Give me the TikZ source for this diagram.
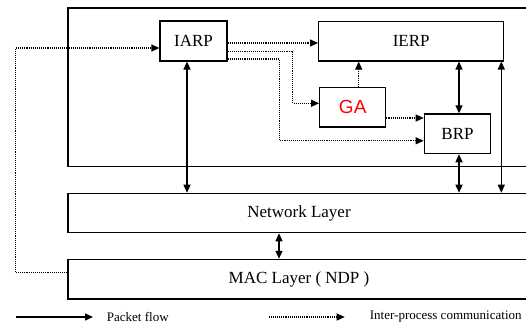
\documentclass[tikz,border=0pt]{standalone}
\usepackage{fontspec}
\setmainfont{Liberation Serif}
\newfontfamily\gafont{Liberation Sans}
\usetikzlibrary{arrows.meta}
\tikzset{
	box/.style = {draw, line width = 1.2pt, inner sep = 0pt, font = \fontsize{17}{20}\selectfont},
	pkt/.style = {line width = 1.2pt, <->},
	ipc/.style = {densely dotted, line width = 1.1pt, ->},
	legend/.style = {inner sep = 0pt, anchor = west, font = \fontsize{13}{15}\selectfont}
}
\begin{document}
\begin{tikzpicture}[x = 1pt, y = -1pt, >={Triangle[length=8pt, width=7pt]}]
		\useasboundingbox (0, 0) rectangle (526, 329);
		% node box
		\draw[line width = 1.2pt] (68, 8) rectangle (530, 166.7);
		\node[box, minimum width = 67, minimum height = 40] (iarp) at (193.5, 41) {IARP};
		\node[box, minimum width = 185, minimum height = 39.3] (ierp) at (411.2, 41.3) {IERP};
		\node[box, minimum width = 66, minimum height = 39.3, text = red, font = \gafont\fontsize{19}{20}\selectfont] (ga) at (352.7, 107.3) {GA};
		\node[box, minimum width = 66.4, minimum height = 39.7] (brp) at (457.5, 133.8) {BRP};
		% layers
		\node[box, minimum width = 462, minimum height = 39.4] (net) at (299, 213) {Network Layer};
		\node[box, minimum width = 462, minimum height = 39.7] (mac) at (299, 279.2) {MAC Layer ( NDP )};
		% packet flow
		\draw[pkt] ([xshift = -6.5pt]iarp.south) -- ([xshift = -6.5pt]iarp.south |- net.north);
		\draw[pkt] ([xshift = 1.5pt]brp.north) -- ([xshift = 1.5pt]brp.north |- ierp.south);
		\draw[pkt] ([xshift = 1.5pt]brp.south) -- ([xshift = 1.5pt]brp.south |- net.north);
		\draw[pkt] ([xshift = -3pt]ierp.south east) -- ([xshift = -3pt]ierp.south east |- net.north);
		\draw[pkt] ([xshift = -20pt]net.south) -- ([xshift = -20pt]net.south |- mac.north);
		% inter-process communication
		\draw[ipc] ([yshift = 6.5pt]mac.west) -- ++(-52, 0) |- ([yshift = -7pt]iarp.west);
		\draw[ipc] ([yshift = -2pt]iarp.east) -- ([yshift = -2pt]iarp.east -| ierp.west);
		\draw[ipc] ([yshift = -10.7pt]iarp.east) -- ++(65.3, 0) |- ([yshift = 4pt]ga.west);
		\draw[ipc] ([yshift = -18pt]iarp.east) -- ++(52, 0) |- ([yshift = -7pt]brp.west);
		\draw[ipc] ([yshift = -10.7pt]ga.east) -- ([yshift = -10.7pt]ga.east -| brp.west);
		\draw[ipc] ([xshift = 6pt]ga.north) -- ([xshift = 6pt]ga.north |- ierp.south);
		% legend
		\node[legend] (pf) at (106.7, 317) {Packet flow};
		\node[legend] (ic) at (369.7, 317) {Inter-process communication};
		\draw[line width = 1.2pt, <-] ([xshift = -13.7pt]pf.west) -- ++(-77.3, 0);
		\draw[ipc, <-] ([xshift = -25pt]ic.west) -- ++(-76.7, 0);
\end{tikzpicture}
\end{document}
